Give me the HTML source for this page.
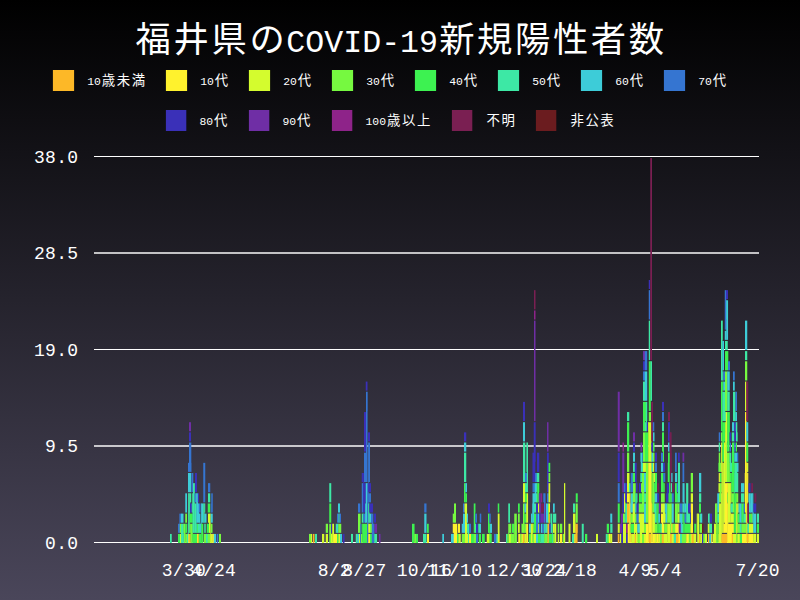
<!DOCTYPE html>
<html lang="ja"><head><meta charset="utf-8"><title>福井県のCOVID-19新規陽性者数</title>
<style>
html,body{margin:0;padding:0;background:#000;}
body{width:800px;height:600px;overflow:hidden;font-family:"Liberation Mono","Liberation Sans",sans-serif;}
#chart{position:relative;width:800px;height:600px;background:linear-gradient(to bottom,#000000 0%,#4a465a 100%);overflow:hidden;}
#chart svg{position:absolute;left:0;top:0;display:block;}
#chart ul,#chart ol{list-style:none;margin:0;padding:0;}
.tx{position:absolute;margin:0;padding:0;font-weight:normal;white-space:nowrap;overflow:hidden;color:transparent;font-family:"Liberation Mono","Liberation Sans",sans-serif;}
#chart svg text{font-family:"Liberation Mono","Noto Sans CJK JP",monospace;fill:#fff;}
#chart svg .ax{font-size:18px;letter-spacing:0.28px;}
#chart svg .tc{font-family:"Liberation Sans","Noto Sans CJK JP",sans-serif;font-size:35.3px;letter-spacing:2.64px;}
#chart svg .tl{font-size:31.6px;}
#chart svg .ld{font-size:11.4px;}
#chart svg .lc{font-family:"Liberation Sans","Noto Sans CJK JP",sans-serif;font-size:13.4px;letter-spacing:1.6px;}
</style></head><body>
<div id="chart">
<svg width="800" height="600" viewBox="0 0 800 600" aria-hidden="true">
<rect x="94.0" y="156.00" width="665.0" height="1" fill="#fff"/>
<rect x="94.0" y="252.00" width="665.0" height="2" fill="#fff" fill-opacity="0.73"/>
<rect x="94.0" y="349.00" width="665.0" height="1" fill="#fff"/>
<rect x="94.0" y="445.00" width="665.0" height="2" fill="#fff" fill-opacity="0.73"/>
<rect x="94.0" y="542.00" width="665.0" height="1" fill="#fff"/>
<g class="bars" shape-rendering="auto"><rect x="170.00" y="533.94" width="1.75" height="9.06" fill="#3de8a5"/><rect x="178.00" y="523.78" width="1.80" height="9.06" fill="#3575d1"/><rect x="179.50" y="513.63" width="0.55" height="19.22" fill="#3575d1"/><rect x="178.00" y="533.94" width="2.30" height="9.06" fill="#3df251"/><rect x="179.75" y="513.63" width="1.55" height="9.06" fill="#3575d1"/><rect x="179.75" y="523.78" width="1.55" height="9.06" fill="#76f940"/><rect x="180.00" y="533.94" width="1.30" height="9.06" fill="#d4fc2e"/><rect x="181.00" y="523.78" width="2.80" height="19.22" fill="#3de8a5"/><rect x="181.00" y="513.63" width="2.50" height="9.06" fill="#3dccd8"/><rect x="183.50" y="533.94" width="0.80" height="9.06" fill="#3de8a5"/><rect x="183.50" y="523.78" width="0.80" height="9.06" fill="#76f940"/><rect x="184.00" y="523.78" width="1.55" height="19.22" fill="#76f940"/><rect x="185.25" y="493.31" width="1.75" height="19.22" fill="#3dccd8"/><rect x="185.25" y="523.78" width="1.75" height="9.06" fill="#3df251"/><rect x="185.25" y="513.63" width="1.75" height="9.06" fill="#76f940"/><rect x="185.25" y="533.94" width="2.05" height="9.06" fill="#76f940"/><rect x="187.00" y="533.94" width="1.05" height="9.06" fill="#3de8a5"/><rect x="187.75" y="523.78" width="0.55" height="19.22" fill="#3de8a5"/><rect x="188.00" y="493.31" width="0.55" height="49.69" fill="#3de8a5"/><rect x="188.00" y="462.84" width="1.30" height="9.06" fill="#3575d1"/><rect x="188.25" y="493.31" width="1.55" height="39.53" fill="#3de8a5"/><rect x="188.25" y="533.94" width="1.55" height="9.06" fill="#fff22d"/><rect x="189.50" y="493.31" width="0.80" height="19.22" fill="#3de8a5"/><rect x="189.50" y="533.94" width="1.30" height="9.06" fill="#fdb827"/><rect x="189.50" y="523.78" width="1.30" height="9.06" fill="#76f940"/><rect x="189.00" y="422.21" width="2.00" height="9.06" fill="#6f2ea5"/><rect x="189.00" y="442.52" width="2.30" height="29.37" fill="#3575d1"/><rect x="189.00" y="432.36" width="2.00" height="9.06" fill="#3a30b8"/><rect x="188.00" y="472.99" width="3.25" height="19.22" fill="#3dccd8"/><rect x="190.00" y="493.31" width="1.25" height="9.06" fill="#3de8a5"/><rect x="191.00" y="462.84" width="0.25" height="9.06" fill="#3575d1"/><rect x="190.00" y="503.47" width="2.05" height="9.06" fill="#3a30b8"/><rect x="191.75" y="503.47" width="0.80" height="9.06" fill="#3de8a5"/><rect x="189.50" y="513.63" width="3.30" height="9.06" fill="#3df251"/><rect x="190.50" y="523.78" width="2.30" height="19.22" fill="#76f940"/><rect x="192.25" y="493.31" width="0.55" height="19.22" fill="#3de8a5"/><rect x="191.50" y="472.99" width="1.80" height="19.22" fill="#3575d1"/><rect x="192.50" y="493.31" width="0.80" height="39.53" fill="#3de8a5"/><rect x="193.00" y="483.15" width="1.80" height="49.69" fill="#3de8a5"/><rect x="194.50" y="483.15" width="0.25" height="9.06" fill="#3de8a5"/><rect x="194.50" y="493.31" width="1.55" height="9.06" fill="#3575d1"/><rect x="194.50" y="503.47" width="2.05" height="29.37" fill="#3de8a5"/><rect x="195.75" y="493.31" width="0.80" height="9.06" fill="#3dccd8"/><rect x="192.50" y="533.94" width="4.80" height="9.06" fill="#3df251"/><rect x="195.00" y="472.99" width="2.00" height="19.22" fill="#3a30b8"/><rect x="196.25" y="523.78" width="1.05" height="9.06" fill="#3de8a5"/><rect x="196.25" y="493.31" width="1.80" height="29.37" fill="#3dccd8"/><rect x="197.00" y="523.78" width="1.05" height="9.06" fill="#3df251"/><rect x="197.00" y="533.94" width="1.05" height="9.06" fill="#fff22d"/><rect x="197.75" y="533.94" width="1.30" height="9.06" fill="#fdb827"/><rect x="197.75" y="503.47" width="1.30" height="19.22" fill="#3dccd8"/><rect x="197.75" y="493.31" width="1.25" height="9.06" fill="#3a30b8"/><rect x="197.75" y="523.78" width="2.30" height="9.06" fill="#3de8a5"/><rect x="198.75" y="513.63" width="1.30" height="9.06" fill="#3dccd8"/><rect x="199.75" y="513.63" width="0.55" height="19.22" fill="#3dccd8"/><rect x="198.75" y="503.47" width="1.75" height="9.06" fill="#3575d1"/><rect x="200.00" y="523.78" width="1.30" height="9.06" fill="#3dccd8"/><rect x="198.75" y="533.94" width="2.80" height="9.06" fill="#3df251"/><rect x="201.00" y="503.47" width="0.55" height="29.37" fill="#3dccd8"/><rect x="201.25" y="523.78" width="2.00" height="19.22" fill="#3df251"/><rect x="201.25" y="503.47" width="2.30" height="19.22" fill="#3dccd8"/><rect x="203.25" y="503.47" width="1.30" height="19.22" fill="#3de8a5"/><rect x="203.25" y="462.84" width="2.00" height="39.53" fill="#3575d1"/><rect x="204.25" y="503.47" width="1.00" height="9.06" fill="#3de8a5"/><rect x="204.25" y="523.78" width="1.50" height="9.06" fill="#3de8a5"/><rect x="203.75" y="533.94" width="2.55" height="9.06" fill="#76f940"/><rect x="204.25" y="513.63" width="2.25" height="9.06" fill="#3dccd8"/><rect x="206.00" y="533.94" width="2.05" height="9.06" fill="#3de8a5"/><rect x="206.75" y="523.78" width="2.55" height="9.06" fill="#3df251"/><rect x="208.00" y="513.63" width="1.30" height="9.06" fill="#d4fc2e"/><rect x="207.75" y="533.94" width="2.55" height="9.06" fill="#76f940"/><rect x="209.00" y="513.63" width="1.30" height="19.22" fill="#d4fc2e"/><rect x="207.75" y="503.47" width="2.50" height="9.06" fill="#3df251"/><rect x="208.00" y="493.31" width="2.25" height="9.06" fill="#3de8a5"/><rect x="208.00" y="483.15" width="2.25" height="9.06" fill="#3575d1"/><rect x="210.00" y="513.63" width="0.55" height="29.37" fill="#d4fc2e"/><rect x="210.75" y="503.47" width="0.80" height="9.06" fill="#3575d1"/><rect x="210.25" y="533.94" width="2.55" height="9.06" fill="#d4fc2e"/><rect x="210.75" y="523.78" width="1.75" height="9.06" fill="#76f940"/><rect x="210.75" y="513.63" width="2.00" height="9.06" fill="#3dccd8"/><rect x="211.25" y="493.31" width="1.50" height="19.22" fill="#3575d1"/><rect x="212.50" y="533.94" width="1.55" height="9.06" fill="#fff22d"/><rect x="213.75" y="533.94" width="2.25" height="9.06" fill="#3dccd8"/><rect x="216.75" y="533.94" width="1.50" height="9.06" fill="#3575d1"/><rect x="219.00" y="533.94" width="2.00" height="9.06" fill="#76f940"/><rect x="309.00" y="533.94" width="2.30" height="9.06" fill="#76f940"/><rect x="311.00" y="533.94" width="1.00" height="9.06" fill="#d4fc2e"/><rect x="312.75" y="533.94" width="1.75" height="9.06" fill="#fdb827"/><rect x="315.00" y="533.94" width="2.00" height="9.06" fill="#3de8a5"/><rect x="322.00" y="533.94" width="2.25" height="9.06" fill="#d4fc2e"/><rect x="325.75" y="533.94" width="2.25" height="9.06" fill="#d4fc2e"/><rect x="325.75" y="523.78" width="2.25" height="9.06" fill="#76f940"/><rect x="329.25" y="523.78" width="2.05" height="19.22" fill="#76f940"/><rect x="329.25" y="503.47" width="2.00" height="19.22" fill="#3df251"/><rect x="329.25" y="483.15" width="2.00" height="19.22" fill="#3de8a5"/><rect x="331.00" y="523.78" width="1.00" height="9.06" fill="#3a30b8"/><rect x="331.00" y="533.94" width="1.55" height="9.06" fill="#d4fc2e"/><rect x="332.25" y="523.78" width="1.80" height="19.22" fill="#d4fc2e"/><rect x="333.75" y="523.78" width="0.25" height="9.06" fill="#d4fc2e"/><rect x="333.75" y="533.94" width="3.55" height="9.06" fill="#fff22d"/><rect x="335.75" y="523.78" width="1.55" height="9.06" fill="#3de8a5"/><rect x="337.00" y="523.78" width="1.55" height="9.06" fill="#3dccd8"/><rect x="337.00" y="533.94" width="1.80" height="9.06" fill="#3df251"/><rect x="337.00" y="513.63" width="1.80" height="9.06" fill="#3575d1"/><rect x="338.50" y="513.63" width="1.30" height="9.06" fill="#3de8a5"/><rect x="338.00" y="503.47" width="2.00" height="9.06" fill="#3dccd8"/><rect x="338.50" y="533.94" width="1.80" height="9.06" fill="#d4fc2e"/><rect x="339.50" y="513.63" width="1.50" height="9.06" fill="#3575d1"/><rect x="338.25" y="523.78" width="3.00" height="9.06" fill="#76f940"/><rect x="340.00" y="533.94" width="2.00" height="9.06" fill="#3dccd8"/><rect x="342.75" y="533.94" width="1.75" height="9.06" fill="#3a30b8"/><rect x="351.00" y="533.94" width="2.00" height="9.06" fill="#3de8a5"/><rect x="355.75" y="533.94" width="2.05" height="9.06" fill="#3de8a5"/><rect x="357.50" y="533.94" width="1.80" height="9.06" fill="#3dccd8"/><rect x="359.00" y="533.94" width="1.30" height="9.06" fill="#d4fc2e"/><rect x="358.00" y="503.47" width="2.25" height="9.06" fill="#3575d1"/><rect x="358.00" y="513.63" width="2.55" height="19.22" fill="#76f940"/><rect x="360.00" y="533.94" width="0.55" height="9.06" fill="#3575d1"/><rect x="360.25" y="523.78" width="1.05" height="19.22" fill="#3575d1"/><rect x="361.00" y="523.78" width="0.25" height="9.06" fill="#3575d1"/><rect x="361.00" y="533.94" width="1.55" height="9.06" fill="#76f940"/><rect x="361.75" y="523.78" width="0.80" height="9.06" fill="#3df251"/><rect x="361.75" y="472.99" width="1.80" height="9.06" fill="#3a30b8"/><rect x="361.75" y="483.15" width="1.80" height="29.37" fill="#3575d1"/><rect x="361.75" y="513.63" width="1.80" height="9.06" fill="#3de8a5"/><rect x="363.25" y="472.99" width="1.05" height="39.53" fill="#3a30b8"/><rect x="363.25" y="513.63" width="2.05" height="9.06" fill="#3575d1"/><rect x="364.00" y="483.15" width="1.55" height="29.37" fill="#3a30b8"/><rect x="365.00" y="513.63" width="0.55" height="9.06" fill="#3dccd8"/><rect x="365.25" y="503.47" width="0.80" height="19.22" fill="#3dccd8"/><rect x="365.25" y="483.15" width="0.80" height="19.22" fill="#3a30b8"/><rect x="364.00" y="412.05" width="2.30" height="39.53" fill="#3a30b8"/><rect x="364.00" y="452.68" width="2.30" height="29.37" fill="#3575d1"/><rect x="362.25" y="523.78" width="5.05" height="19.22" fill="#3df251"/><rect x="365.75" y="483.15" width="1.55" height="39.53" fill="#3dccd8"/><rect x="366.00" y="391.73" width="1.55" height="90.32" fill="#3575d1"/><rect x="367.00" y="483.15" width="0.55" height="19.22" fill="#3dccd8"/><rect x="367.00" y="503.47" width="0.55" height="39.53" fill="#3575d1"/><rect x="365.75" y="381.57" width="1.75" height="9.06" fill="#3a30b8"/><rect x="367.25" y="391.73" width="0.25" height="19.22" fill="#3575d1"/><rect x="367.25" y="483.15" width="1.05" height="59.85" fill="#3575d1"/><rect x="368.00" y="442.52" width="0.55" height="100.48" fill="#3575d1"/><rect x="368.25" y="503.47" width="1.30" height="19.22" fill="#3de8a5"/><rect x="369.25" y="513.63" width="0.80" height="9.06" fill="#3de8a5"/><rect x="368.00" y="432.36" width="2.00" height="9.06" fill="#3a30b8"/><rect x="368.25" y="523.78" width="2.05" height="9.06" fill="#d4fc2e"/><rect x="368.25" y="442.52" width="1.75" height="39.53" fill="#3575d1"/><rect x="368.25" y="533.94" width="2.05" height="9.06" fill="#fff22d"/><rect x="368.25" y="493.31" width="2.75" height="9.06" fill="#3575d1"/><rect x="368.25" y="483.15" width="2.75" height="9.06" fill="#3a30b8"/><rect x="369.75" y="513.63" width="1.55" height="9.06" fill="#3dccd8"/><rect x="370.00" y="533.94" width="2.05" height="9.06" fill="#3df251"/><rect x="370.00" y="523.78" width="2.05" height="9.06" fill="#76f940"/><rect x="371.00" y="513.63" width="1.05" height="9.06" fill="#3575d1"/><rect x="369.25" y="503.47" width="3.75" height="9.06" fill="#3a30b8"/><rect x="371.75" y="513.63" width="1.55" height="29.37" fill="#3575d1"/><rect x="373.00" y="523.78" width="1.55" height="19.22" fill="#3575d1"/><rect x="374.00" y="513.63" width="2.00" height="9.06" fill="#3a30b8"/><rect x="374.25" y="533.94" width="2.75" height="9.06" fill="#3de8a5"/><rect x="374.50" y="523.78" width="2.50" height="9.06" fill="#6f2ea5"/><rect x="379.00" y="533.94" width="1.50" height="9.06" fill="#6f2ea5"/><rect x="412.00" y="523.78" width="2.55" height="19.22" fill="#3df251"/><rect x="414.25" y="533.94" width="2.05" height="9.06" fill="#76f940"/><rect x="416.00" y="533.94" width="2.00" height="9.06" fill="#3df251"/><rect x="423.00" y="533.94" width="3.50" height="9.06" fill="#3de8a5"/><rect x="424.25" y="513.63" width="2.25" height="19.22" fill="#3dccd8"/><rect x="424.25" y="503.47" width="2.25" height="9.06" fill="#3575d1"/><rect x="427.00" y="523.78" width="1.75" height="9.06" fill="#3df251"/><rect x="427.00" y="533.94" width="2.00" height="9.06" fill="#fff22d"/><rect x="442.25" y="533.94" width="1.75" height="9.06" fill="#3dccd8"/><rect x="451.00" y="533.94" width="3.05" height="9.06" fill="#3dccd8"/><rect x="452.75" y="523.78" width="1.30" height="9.06" fill="#fff22d"/><rect x="452.75" y="513.63" width="1.55" height="9.06" fill="#76f940"/><rect x="454.00" y="503.47" width="2.00" height="19.22" fill="#76f940"/><rect x="453.75" y="523.78" width="3.55" height="19.22" fill="#fff22d"/><rect x="457.00" y="533.94" width="1.80" height="9.06" fill="#3df251"/><rect x="458.00" y="523.78" width="2.00" height="9.06" fill="#fff22d"/><rect x="458.50" y="533.94" width="2.25" height="9.06" fill="#d4fc2e"/><rect x="461.75" y="523.78" width="1.55" height="9.06" fill="#3dccd8"/><rect x="463.00" y="503.47" width="1.80" height="9.06" fill="#3575d1"/><rect x="461.75" y="533.94" width="3.55" height="9.06" fill="#76f940"/><rect x="463.00" y="513.63" width="2.30" height="19.22" fill="#3dccd8"/><rect x="464.50" y="503.47" width="0.80" height="9.06" fill="#d4fc2e"/><rect x="464.00" y="483.15" width="1.55" height="19.22" fill="#3df251"/><rect x="464.00" y="442.52" width="2.25" height="9.06" fill="#3dccd8"/><rect x="464.00" y="432.36" width="2.25" height="9.06" fill="#3a30b8"/><rect x="464.00" y="452.68" width="2.25" height="29.37" fill="#3de8a5"/><rect x="465.00" y="503.47" width="2.05" height="39.53" fill="#d4fc2e"/><rect x="465.25" y="483.15" width="1.75" height="9.06" fill="#3dccd8"/><rect x="465.25" y="493.31" width="1.75" height="9.06" fill="#3df251"/><rect x="466.75" y="523.78" width="0.55" height="19.22" fill="#d4fc2e"/><rect x="466.75" y="503.47" width="0.25" height="9.06" fill="#d4fc2e"/><rect x="466.75" y="513.63" width="1.25" height="9.06" fill="#3dccd8"/><rect x="467.00" y="523.78" width="1.30" height="9.06" fill="#3de8a5"/><rect x="467.00" y="533.94" width="1.30" height="9.06" fill="#d4fc2e"/><rect x="468.00" y="523.78" width="1.30" height="19.22" fill="#3de8a5"/><rect x="469.00" y="523.78" width="2.00" height="9.06" fill="#3575d1"/><rect x="469.00" y="533.94" width="2.30" height="9.06" fill="#fff22d"/><rect x="471.00" y="533.94" width="3.05" height="9.06" fill="#3df251"/><rect x="473.75" y="503.47" width="1.55" height="29.37" fill="#3df251"/><rect x="475.00" y="503.47" width="0.25" height="9.06" fill="#3df251"/><rect x="473.75" y="533.94" width="2.55" height="9.06" fill="#76f940"/><rect x="475.00" y="523.78" width="1.30" height="9.06" fill="#3de8a5"/><rect x="475.25" y="513.63" width="1.75" height="9.06" fill="#3575d1"/><rect x="476.00" y="533.94" width="2.00" height="9.06" fill="#3575d1"/><rect x="476.00" y="523.78" width="2.00" height="9.06" fill="#3a30b8"/><rect x="478.25" y="523.78" width="1.80" height="9.06" fill="#3de8a5"/><rect x="478.75" y="533.94" width="2.25" height="9.06" fill="#3df251"/><rect x="479.75" y="523.78" width="1.25" height="9.06" fill="#3dccd8"/><rect x="479.75" y="513.63" width="1.50" height="9.06" fill="#3575d1"/><rect x="482.00" y="533.94" width="2.75" height="9.06" fill="#3df251"/><rect x="488.00" y="513.63" width="1.55" height="19.22" fill="#3df251"/><rect x="486.75" y="533.94" width="3.05" height="9.06" fill="#d4fc2e"/><rect x="489.25" y="523.78" width="0.55" height="9.06" fill="#3df251"/><rect x="488.00" y="503.47" width="2.00" height="9.06" fill="#3a30b8"/><rect x="489.50" y="523.78" width="0.80" height="19.22" fill="#3df251"/><rect x="489.25" y="513.63" width="1.50" height="9.06" fill="#3575d1"/><rect x="490.00" y="533.94" width="1.75" height="9.06" fill="#3df251"/><rect x="490.00" y="523.78" width="2.00" height="9.06" fill="#3dccd8"/><rect x="494.00" y="533.94" width="2.55" height="9.06" fill="#3575d1"/><rect x="496.25" y="533.94" width="1.80" height="9.06" fill="#3de8a5"/><rect x="497.75" y="513.63" width="0.55" height="19.22" fill="#d4fc2e"/><rect x="497.75" y="533.94" width="0.55" height="9.06" fill="#fff22d"/><rect x="497.75" y="503.47" width="1.50" height="9.06" fill="#3df251"/><rect x="498.00" y="513.63" width="1.55" height="29.37" fill="#d4fc2e"/><rect x="499.25" y="533.94" width="0.25" height="9.06" fill="#fff22d"/><rect x="506.00" y="533.94" width="1.55" height="9.06" fill="#3de8a5"/><rect x="507.25" y="533.94" width="1.30" height="9.06" fill="#76f940"/><rect x="508.25" y="523.78" width="1.05" height="19.22" fill="#76f940"/><rect x="508.25" y="503.47" width="1.75" height="19.22" fill="#3de8a5"/><rect x="509.00" y="533.94" width="2.05" height="9.06" fill="#d4fc2e"/><rect x="509.00" y="523.78" width="2.05" height="9.06" fill="#76f940"/><rect x="510.75" y="523.78" width="0.55" height="19.22" fill="#76f940"/><rect x="511.00" y="533.94" width="3.05" height="9.06" fill="#76f940"/><rect x="512.00" y="523.78" width="2.05" height="9.06" fill="#3df251"/><rect x="513.75" y="523.78" width="0.80" height="19.22" fill="#76f940"/><rect x="514.25" y="513.63" width="2.55" height="29.37" fill="#76f940"/><rect x="516.50" y="523.78" width="0.50" height="19.22" fill="#76f940"/><rect x="518.00" y="503.47" width="1.75" height="9.06" fill="#3df251"/><rect x="518.00" y="523.78" width="1.75" height="9.06" fill="#d4fc2e"/><rect x="518.00" y="513.63" width="1.75" height="9.06" fill="#76f940"/><rect x="518.25" y="533.94" width="2.30" height="9.06" fill="#fff22d"/><rect x="520.25" y="533.94" width="1.30" height="9.06" fill="#76f940"/><rect x="521.25" y="533.94" width="2.05" height="9.06" fill="#d4fc2e"/><rect x="521.50" y="523.78" width="1.80" height="9.06" fill="#76f940"/><rect x="523.00" y="503.47" width="1.55" height="29.37" fill="#76f940"/><rect x="523.00" y="533.94" width="1.80" height="9.06" fill="#fdb827"/><rect x="524.25" y="503.47" width="0.55" height="9.06" fill="#76f940"/><rect x="523.00" y="422.21" width="2.00" height="19.22" fill="#3dccd8"/><rect x="523.00" y="483.15" width="2.30" height="19.22" fill="#d4fc2e"/><rect x="523.00" y="401.89" width="2.00" height="19.22" fill="#3a30b8"/><rect x="523.00" y="442.52" width="2.30" height="39.53" fill="#3de8a5"/><rect x="524.25" y="523.78" width="2.05" height="9.06" fill="#76f940"/><rect x="524.25" y="513.63" width="2.30" height="9.06" fill="#3df251"/><rect x="524.50" y="533.94" width="2.05" height="9.06" fill="#d4fc2e"/><rect x="524.50" y="503.47" width="2.05" height="9.06" fill="#3dccd8"/><rect x="526.00" y="523.78" width="0.55" height="9.06" fill="#fff22d"/><rect x="525.00" y="472.99" width="2.05" height="9.06" fill="#3575d1"/><rect x="525.00" y="483.15" width="2.05" height="9.06" fill="#3de8a5"/><rect x="525.00" y="493.31" width="2.05" height="9.06" fill="#3df251"/><rect x="526.25" y="503.47" width="0.80" height="19.22" fill="#d4fc2e"/><rect x="526.50" y="442.52" width="0.55" height="29.37" fill="#3de8a5"/><rect x="526.25" y="523.78" width="1.80" height="19.22" fill="#fff22d"/><rect x="526.75" y="493.31" width="1.30" height="29.37" fill="#d4fc2e"/><rect x="526.75" y="442.52" width="1.25" height="49.69" fill="#3de8a5"/><rect x="527.75" y="493.31" width="0.25" height="9.06" fill="#d4fc2e"/><rect x="527.75" y="523.78" width="0.25" height="9.06" fill="#fff22d"/><rect x="528.75" y="533.94" width="2.30" height="9.06" fill="#3df251"/><rect x="529.00" y="523.78" width="2.05" height="9.06" fill="#3dccd8"/><rect x="531.00" y="513.63" width="1.55" height="9.06" fill="#3dccd8"/><rect x="530.75" y="523.78" width="2.05" height="19.22" fill="#d4fc2e"/><rect x="532.25" y="503.47" width="0.55" height="19.22" fill="#3dccd8"/><rect x="532.50" y="523.78" width="1.30" height="9.06" fill="#d4fc2e"/><rect x="532.50" y="452.68" width="1.55" height="29.37" fill="#3a30b8"/><rect x="532.50" y="493.31" width="1.80" height="29.37" fill="#3dccd8"/><rect x="532.50" y="533.94" width="1.80" height="9.06" fill="#76f940"/><rect x="533.50" y="523.78" width="0.80" height="9.06" fill="#3df251"/><rect x="532.50" y="483.15" width="2.55" height="9.06" fill="#3575d1"/><rect x="534.00" y="493.31" width="1.05" height="9.06" fill="#3dccd8"/><rect x="533.75" y="422.21" width="1.55" height="59.85" fill="#3a30b8"/><rect x="534.00" y="290.15" width="1.50" height="19.22" fill="#7a1f52"/><rect x="534.00" y="320.63" width="1.50" height="100.48" fill="#6f2ea5"/><rect x="534.00" y="310.47" width="1.50" height="9.06" fill="#8e2389"/><rect x="535.00" y="422.21" width="0.50" height="39.53" fill="#3a30b8"/><rect x="534.00" y="513.63" width="2.30" height="19.22" fill="#3df251"/><rect x="534.00" y="503.47" width="2.30" height="9.06" fill="#3de8a5"/><rect x="534.00" y="533.94" width="2.30" height="9.06" fill="#d4fc2e"/><rect x="534.75" y="483.15" width="1.55" height="19.22" fill="#3dccd8"/><rect x="535.00" y="472.99" width="2.05" height="9.06" fill="#3575d1"/><rect x="536.00" y="483.15" width="1.05" height="9.06" fill="#3dccd8"/><rect x="536.00" y="493.31" width="1.55" height="9.06" fill="#3de8a5"/><rect x="536.75" y="483.15" width="0.80" height="9.06" fill="#3df251"/><rect x="536.00" y="533.94" width="2.30" height="9.06" fill="#3dccd8"/><rect x="536.00" y="513.63" width="2.30" height="19.22" fill="#3575d1"/><rect x="536.00" y="503.47" width="2.30" height="9.06" fill="#3a30b8"/><rect x="537.25" y="483.15" width="1.80" height="19.22" fill="#3df251"/><rect x="538.00" y="523.78" width="1.05" height="9.06" fill="#d4fc2e"/><rect x="536.75" y="472.99" width="2.50" height="9.06" fill="#3de8a5"/><rect x="537.00" y="452.68" width="2.25" height="19.22" fill="#3a30b8"/><rect x="538.00" y="513.63" width="1.55" height="9.06" fill="#3dccd8"/><rect x="538.00" y="503.47" width="1.55" height="9.06" fill="#d4fc2e"/><rect x="538.75" y="483.15" width="0.50" height="9.06" fill="#3df251"/><rect x="538.75" y="493.31" width="0.80" height="9.06" fill="#6f2ea5"/><rect x="538.75" y="523.78" width="1.50" height="9.06" fill="#3575d1"/><rect x="539.25" y="493.31" width="1.30" height="19.22" fill="#6f2ea5"/><rect x="538.00" y="533.94" width="2.80" height="9.06" fill="#3df251"/><rect x="539.25" y="513.63" width="1.55" height="9.06" fill="#3a30b8"/><rect x="540.25" y="503.47" width="0.55" height="9.06" fill="#6f2ea5"/><rect x="540.50" y="503.47" width="0.80" height="19.22" fill="#6f2ea5"/><rect x="540.75" y="493.31" width="1.50" height="9.06" fill="#8e2389"/><rect x="541.00" y="523.78" width="1.55" height="9.06" fill="#3dccd8"/><rect x="540.50" y="533.94" width="3.80" height="9.06" fill="#3de8a5"/><rect x="541.00" y="513.63" width="3.30" height="9.06" fill="#6f2ea5"/><rect x="541.00" y="503.47" width="3.30" height="9.06" fill="#7a1f52"/><rect x="542.25" y="523.78" width="2.05" height="9.06" fill="#3575d1"/><rect x="543.25" y="493.31" width="1.05" height="9.06" fill="#3575d1"/><rect x="544.00" y="523.78" width="0.55" height="19.22" fill="#3de8a5"/><rect x="544.00" y="493.31" width="1.55" height="29.37" fill="#3575d1"/><rect x="544.25" y="523.78" width="1.30" height="9.06" fill="#3de8a5"/><rect x="545.25" y="523.78" width="1.05" height="9.06" fill="#3dccd8"/><rect x="545.25" y="503.47" width="1.05" height="19.22" fill="#6f2ea5"/><rect x="544.25" y="533.94" width="3.55" height="9.06" fill="#76f940"/><rect x="546.00" y="523.78" width="1.80" height="9.06" fill="#3de8a5"/><rect x="546.00" y="503.47" width="2.30" height="19.22" fill="#3dccd8"/><rect x="547.00" y="493.31" width="1.80" height="9.06" fill="#3575d1"/><rect x="547.00" y="422.21" width="1.50" height="29.37" fill="#6f2ea5"/><rect x="547.00" y="452.68" width="1.80" height="39.53" fill="#3a30b8"/><rect x="547.50" y="523.78" width="1.55" height="19.22" fill="#fdb827"/><rect x="548.00" y="503.47" width="1.05" height="19.22" fill="#76f940"/><rect x="548.75" y="513.63" width="0.80" height="19.22" fill="#fdb827"/><rect x="548.75" y="503.47" width="1.25" height="9.06" fill="#fff22d"/><rect x="549.25" y="513.63" width="0.75" height="9.06" fill="#fdb827"/><rect x="548.50" y="472.99" width="1.75" height="9.06" fill="#76f940"/><rect x="548.50" y="462.84" width="1.75" height="9.06" fill="#3df251"/><rect x="548.50" y="483.15" width="1.75" height="19.22" fill="#d4fc2e"/><rect x="549.25" y="523.78" width="1.80" height="9.06" fill="#3a30b8"/><rect x="550.50" y="513.63" width="0.55" height="9.06" fill="#3de8a5"/><rect x="548.75" y="533.94" width="3.55" height="9.06" fill="#3df251"/><rect x="550.75" y="513.63" width="1.55" height="19.22" fill="#3de8a5"/><rect x="552.00" y="523.78" width="0.55" height="19.22" fill="#3de8a5"/><rect x="552.25" y="533.94" width="1.05" height="9.06" fill="#3de8a5"/><rect x="553.00" y="523.78" width="1.80" height="9.06" fill="#d4fc2e"/><rect x="553.00" y="533.94" width="1.80" height="9.06" fill="#76f940"/><rect x="553.00" y="503.47" width="1.75" height="9.06" fill="#3dccd8"/><rect x="553.00" y="513.63" width="3.25" height="9.06" fill="#3de8a5"/><rect x="554.50" y="523.78" width="1.75" height="19.22" fill="#d4fc2e"/><rect x="557.75" y="533.94" width="1.50" height="9.06" fill="#d4fc2e"/><rect x="557.75" y="523.78" width="1.50" height="9.06" fill="#76f940"/><rect x="560.00" y="523.78" width="2.25" height="9.06" fill="#76f940"/><rect x="560.00" y="533.94" width="2.25" height="9.06" fill="#fff22d"/><rect x="562.75" y="533.94" width="1.55" height="9.06" fill="#76f940"/><rect x="564.00" y="483.15" width="1.25" height="59.85" fill="#d4fc2e"/><rect x="568.50" y="523.78" width="2.00" height="19.22" fill="#d4fc2e"/><rect x="572.00" y="533.94" width="2.55" height="9.06" fill="#3de8a5"/><rect x="573.00" y="513.63" width="2.55" height="19.22" fill="#d4fc2e"/><rect x="573.00" y="503.47" width="2.25" height="9.06" fill="#3de8a5"/><rect x="574.25" y="533.94" width="1.55" height="9.06" fill="#fff22d"/><rect x="575.25" y="523.78" width="0.55" height="9.06" fill="#d4fc2e"/><rect x="575.50" y="523.78" width="2.05" height="19.22" fill="#fdb827"/><rect x="575.75" y="493.31" width="2.00" height="9.06" fill="#3df251"/><rect x="575.75" y="503.47" width="2.00" height="19.22" fill="#76f940"/><rect x="577.25" y="523.78" width="0.50" height="9.06" fill="#fdb827"/><rect x="581.75" y="523.78" width="2.00" height="19.22" fill="#3de8a5"/><rect x="585.00" y="533.94" width="2.25" height="9.06" fill="#3df251"/><rect x="596.00" y="533.94" width="2.00" height="9.06" fill="#d4fc2e"/><rect x="605.75" y="533.94" width="2.05" height="9.06" fill="#3de8a5"/><rect x="606.75" y="523.78" width="2.25" height="9.06" fill="#3df251"/><rect x="607.50" y="533.94" width="1.80" height="9.06" fill="#76f940"/><rect x="609.00" y="533.94" width="1.55" height="9.06" fill="#fff22d"/><rect x="610.25" y="533.94" width="2.00" height="9.06" fill="#d4fc2e"/><rect x="610.25" y="513.63" width="2.00" height="9.06" fill="#3dccd8"/><rect x="610.25" y="523.78" width="2.25" height="9.06" fill="#3de8a5"/><rect x="617.75" y="533.94" width="1.75" height="9.06" fill="#fdb827"/><rect x="617.75" y="523.78" width="2.00" height="9.06" fill="#d4fc2e"/><rect x="617.75" y="391.73" width="2.00" height="59.85" fill="#6f2ea5"/><rect x="617.75" y="503.47" width="2.00" height="19.22" fill="#3df251"/><rect x="617.75" y="483.15" width="2.00" height="19.22" fill="#3575d1"/><rect x="617.75" y="452.68" width="2.00" height="29.37" fill="#3a30b8"/><rect x="620.00" y="523.78" width="1.30" height="9.06" fill="#6f2ea5"/><rect x="620.00" y="533.94" width="1.55" height="9.06" fill="#d4fc2e"/><rect x="621.00" y="513.63" width="1.30" height="19.22" fill="#6f2ea5"/><rect x="621.25" y="533.94" width="1.05" height="9.06" fill="#3a30b8"/><rect x="622.00" y="513.63" width="1.30" height="9.06" fill="#6f2ea5"/><rect x="622.00" y="523.78" width="1.30" height="19.22" fill="#3a30b8"/><rect x="622.25" y="452.68" width="2.05" height="39.53" fill="#6f2ea5"/><rect x="622.25" y="493.31" width="2.05" height="19.22" fill="#3a30b8"/><rect x="622.50" y="442.52" width="1.50" height="9.06" fill="#8e2389"/><rect x="623.00" y="513.63" width="2.05" height="9.06" fill="#76f940"/><rect x="624.00" y="493.31" width="1.55" height="19.22" fill="#d4fc2e"/><rect x="624.75" y="513.63" width="0.80" height="9.06" fill="#3de8a5"/><rect x="624.00" y="483.15" width="1.80" height="9.06" fill="#3575d1"/><rect x="625.25" y="493.31" width="0.55" height="9.06" fill="#3a30b8"/><rect x="623.00" y="523.78" width="3.05" height="19.22" fill="#d4fc2e"/><rect x="625.75" y="533.94" width="0.55" height="9.06" fill="#d4fc2e"/><rect x="625.25" y="503.47" width="2.05" height="19.22" fill="#3de8a5"/><rect x="625.50" y="483.15" width="1.80" height="19.22" fill="#3a30b8"/><rect x="626.00" y="533.94" width="2.05" height="9.06" fill="#3a30b8"/><rect x="626.00" y="523.78" width="2.05" height="9.06" fill="#8e2389"/><rect x="627.00" y="472.99" width="2.30" height="19.22" fill="#d4fc2e"/><rect x="627.00" y="503.47" width="2.55" height="19.22" fill="#fdb827"/><rect x="627.00" y="452.68" width="2.25" height="19.22" fill="#76f940"/><rect x="627.00" y="493.31" width="2.55" height="9.06" fill="#fff22d"/><rect x="627.00" y="422.21" width="2.25" height="29.37" fill="#3df251"/><rect x="627.00" y="412.05" width="2.25" height="9.06" fill="#3de8a5"/><rect x="627.75" y="523.78" width="1.80" height="19.22" fill="#fff22d"/><rect x="629.00" y="472.99" width="0.25" height="9.06" fill="#d4fc2e"/><rect x="629.25" y="493.31" width="1.30" height="49.69" fill="#fff22d"/><rect x="629.00" y="483.15" width="1.50" height="9.06" fill="#3de8a5"/><rect x="630.25" y="503.47" width="0.55" height="39.53" fill="#fff22d"/><rect x="630.50" y="503.47" width="0.55" height="9.06" fill="#3dccd8"/><rect x="630.50" y="533.94" width="1.30" height="9.06" fill="#fff22d"/><rect x="630.50" y="513.63" width="2.55" height="9.06" fill="#76f940"/><rect x="630.75" y="472.99" width="2.30" height="19.22" fill="#3575d1"/><rect x="630.75" y="493.31" width="2.30" height="19.22" fill="#3dccd8"/><rect x="632.75" y="493.31" width="0.55" height="9.06" fill="#76f940"/><rect x="630.50" y="523.78" width="3.80" height="9.06" fill="#3df251"/><rect x="631.50" y="533.94" width="2.80" height="9.06" fill="#d4fc2e"/><rect x="632.75" y="503.47" width="1.55" height="19.22" fill="#d4fc2e"/><rect x="633.00" y="462.84" width="2.05" height="9.06" fill="#3de8a5"/><rect x="634.00" y="503.47" width="1.05" height="39.53" fill="#d4fc2e"/><rect x="632.75" y="472.99" width="2.55" height="9.06" fill="#3df251"/><rect x="633.00" y="442.52" width="2.00" height="9.06" fill="#3a30b8"/><rect x="633.00" y="452.68" width="2.00" height="9.06" fill="#3dccd8"/><rect x="633.00" y="432.36" width="2.00" height="9.06" fill="#6f2ea5"/><rect x="634.75" y="462.84" width="0.55" height="9.06" fill="#3a30b8"/><rect x="633.00" y="483.15" width="2.55" height="19.22" fill="#76f940"/><rect x="634.75" y="503.47" width="0.80" height="9.06" fill="#3de8a5"/><rect x="635.25" y="483.15" width="0.25" height="9.06" fill="#76f940"/><rect x="634.75" y="523.78" width="1.55" height="9.06" fill="#d4fc2e"/><rect x="634.75" y="533.94" width="1.55" height="9.06" fill="#fdb827"/><rect x="635.00" y="462.84" width="1.30" height="19.22" fill="#3a30b8"/><rect x="636.00" y="462.84" width="0.55" height="29.37" fill="#3a30b8"/><rect x="634.75" y="513.63" width="2.05" height="9.06" fill="#76f940"/><rect x="635.25" y="493.31" width="1.55" height="19.22" fill="#3de8a5"/><rect x="636.00" y="523.78" width="1.55" height="19.22" fill="#d4fc2e"/><rect x="636.25" y="483.15" width="1.25" height="9.06" fill="#3a30b8"/><rect x="636.50" y="493.31" width="1.00" height="9.06" fill="#3de8a5"/><rect x="637.25" y="533.94" width="0.80" height="9.06" fill="#d4fc2e"/><rect x="636.50" y="503.47" width="2.55" height="9.06" fill="#3a30b8"/><rect x="636.50" y="513.63" width="2.55" height="9.06" fill="#3575d1"/><rect x="637.25" y="523.78" width="2.80" height="9.06" fill="#3dccd8"/><rect x="637.75" y="533.94" width="2.30" height="9.06" fill="#76f940"/><rect x="638.75" y="513.63" width="1.30" height="9.06" fill="#d4fc2e"/><rect x="640.50" y="452.68" width="0.55" height="9.06" fill="#3dccd8"/><rect x="639.00" y="483.15" width="2.30" height="9.06" fill="#3a30b8"/><rect x="639.75" y="513.63" width="2.30" height="29.37" fill="#d4fc2e"/><rect x="638.75" y="503.47" width="3.55" height="9.06" fill="#76f940"/><rect x="639.00" y="493.31" width="3.30" height="9.06" fill="#3df251"/><rect x="640.25" y="472.99" width="2.05" height="9.06" fill="#3de8a5"/><rect x="640.75" y="452.68" width="1.55" height="19.22" fill="#3dccd8"/><rect x="641.00" y="483.15" width="1.30" height="9.06" fill="#76f940"/><rect x="641.75" y="533.94" width="0.55" height="9.06" fill="#fff22d"/><rect x="640.50" y="442.52" width="1.75" height="9.06" fill="#6f2ea5"/><rect x="642.00" y="452.68" width="0.55" height="9.06" fill="#3dccd8"/><rect x="642.00" y="462.84" width="1.30" height="9.06" fill="#3de8a5"/><rect x="642.25" y="452.68" width="1.05" height="9.06" fill="#3575d1"/><rect x="641.75" y="513.63" width="2.55" height="19.22" fill="#d4fc2e"/><rect x="642.00" y="472.99" width="2.30" height="39.53" fill="#76f940"/><rect x="642.00" y="533.94" width="2.30" height="9.06" fill="#76f940"/><rect x="643.00" y="351.10" width="2.05" height="9.06" fill="#6f2ea5"/><rect x="643.00" y="371.42" width="2.05" height="9.06" fill="#3575d1"/><rect x="643.00" y="401.89" width="2.05" height="29.37" fill="#3df251"/><rect x="643.00" y="381.57" width="2.05" height="19.22" fill="#3de8a5"/><rect x="643.00" y="361.26" width="2.05" height="9.06" fill="#3a30b8"/><rect x="643.00" y="432.36" width="2.30" height="29.37" fill="#76f940"/><rect x="643.00" y="462.84" width="3.05" height="9.06" fill="#d4fc2e"/><rect x="644.00" y="533.94" width="2.05" height="9.06" fill="#d4fc2e"/><rect x="644.75" y="401.89" width="1.30" height="19.22" fill="#3df251"/><rect x="644.75" y="422.21" width="1.30" height="9.06" fill="#3de8a5"/><rect x="644.00" y="503.47" width="2.30" height="19.22" fill="#3dccd8"/><rect x="644.00" y="493.31" width="2.30" height="9.06" fill="#3de8a5"/><rect x="644.00" y="523.78" width="2.30" height="9.06" fill="#76f940"/><rect x="644.00" y="472.99" width="2.30" height="19.22" fill="#3dccd8"/><rect x="645.75" y="533.94" width="0.55" height="9.06" fill="#fff22d"/><rect x="645.75" y="462.84" width="0.55" height="9.06" fill="#76f940"/><rect x="645.75" y="401.89" width="1.30" height="29.37" fill="#3de8a5"/><rect x="644.75" y="371.42" width="2.50" height="29.37" fill="#3dccd8"/><rect x="644.75" y="351.10" width="2.50" height="19.22" fill="#3575d1"/><rect x="646.75" y="401.89" width="0.50" height="19.22" fill="#3de8a5"/><rect x="646.75" y="422.21" width="1.55" height="9.06" fill="#3a30b8"/><rect x="645.00" y="432.36" width="3.55" height="29.37" fill="#3df251"/><rect x="646.00" y="523.78" width="2.55" height="19.22" fill="#fff22d"/><rect x="646.00" y="462.84" width="2.55" height="59.85" fill="#76f940"/><rect x="648.00" y="422.21" width="0.55" height="9.06" fill="#d4fc2e"/><rect x="648.25" y="462.84" width="1.05" height="80.16" fill="#fff22d"/><rect x="648.75" y="279.99" width="1.25" height="9.06" fill="#3a30b8"/><rect x="648.75" y="290.15" width="1.25" height="29.37" fill="#3575d1"/><rect x="648.75" y="320.63" width="1.25" height="39.53" fill="#3de8a5"/><rect x="648.75" y="361.26" width="2.05" height="49.69" fill="#3df251"/><rect x="649.00" y="533.94" width="2.05" height="9.06" fill="#fdb827"/><rect x="649.00" y="462.84" width="2.05" height="70.01" fill="#fff22d"/><rect x="650.50" y="401.89" width="0.25" height="9.06" fill="#3df251"/><rect x="648.75" y="412.05" width="2.25" height="9.06" fill="#76f940"/><rect x="648.25" y="422.21" width="3.30" height="39.53" fill="#d4fc2e"/><rect x="650.75" y="462.84" width="1.05" height="80.16" fill="#fff22d"/><rect x="651.25" y="452.68" width="0.55" height="9.06" fill="#d4fc2e"/><rect x="650.25" y="158.10" width="1.75" height="202.06" fill="#7a1f52"/><rect x="650.50" y="361.26" width="1.50" height="39.53" fill="#3de8a5"/><rect x="651.50" y="503.47" width="1.05" height="39.53" fill="#fff22d"/><rect x="651.50" y="472.99" width="1.05" height="29.37" fill="#76f940"/><rect x="651.25" y="401.89" width="1.80" height="39.53" fill="#7a1f52"/><rect x="651.25" y="442.52" width="2.05" height="9.06" fill="#3a30b8"/><rect x="651.50" y="452.68" width="1.80" height="9.06" fill="#3dccd8"/><rect x="651.50" y="462.84" width="1.80" height="9.06" fill="#3de8a5"/><rect x="652.75" y="401.89" width="0.25" height="19.22" fill="#7a1f52"/><rect x="652.25" y="472.99" width="1.80" height="39.53" fill="#76f940"/><rect x="653.75" y="483.15" width="0.55" height="29.37" fill="#76f940"/><rect x="652.75" y="422.21" width="1.50" height="9.06" fill="#3575d1"/><rect x="653.00" y="462.84" width="1.25" height="9.06" fill="#d4fc2e"/><rect x="654.00" y="483.15" width="0.55" height="19.22" fill="#76f940"/><rect x="653.00" y="432.36" width="1.50" height="9.06" fill="#3dccd8"/><rect x="653.00" y="442.52" width="1.50" height="9.06" fill="#3df251"/><rect x="653.00" y="452.68" width="1.50" height="9.06" fill="#76f940"/><rect x="652.25" y="513.63" width="2.80" height="19.22" fill="#d4fc2e"/><rect x="652.25" y="533.94" width="2.80" height="9.06" fill="#fff22d"/><rect x="653.75" y="472.99" width="1.30" height="9.06" fill="#fff22d"/><rect x="654.00" y="503.47" width="1.05" height="9.06" fill="#3de8a5"/><rect x="654.25" y="483.15" width="0.80" height="9.06" fill="#3df251"/><rect x="654.25" y="493.31" width="0.80" height="9.06" fill="#76f940"/><rect x="654.75" y="533.94" width="2.05" height="9.06" fill="#d4fc2e"/><rect x="654.75" y="503.47" width="2.05" height="19.22" fill="#3de8a5"/><rect x="654.75" y="472.99" width="2.25" height="19.22" fill="#3df251"/><rect x="655.00" y="462.84" width="2.00" height="9.06" fill="#3575d1"/><rect x="655.00" y="452.68" width="2.00" height="9.06" fill="#3a30b8"/><rect x="654.75" y="523.78" width="2.80" height="9.06" fill="#76f940"/><rect x="654.75" y="493.31" width="2.80" height="9.06" fill="#3dccd8"/><rect x="656.50" y="503.47" width="1.05" height="19.22" fill="#3df251"/><rect x="657.25" y="503.47" width="1.30" height="29.37" fill="#3df251"/><rect x="656.50" y="533.94" width="2.30" height="9.06" fill="#fff22d"/><rect x="658.25" y="503.47" width="0.80" height="9.06" fill="#3df251"/><rect x="657.25" y="493.31" width="1.75" height="9.06" fill="#3a30b8"/><rect x="657.25" y="483.15" width="1.75" height="9.06" fill="#7a1f52"/><rect x="658.25" y="513.63" width="1.75" height="9.06" fill="#3dccd8"/><rect x="658.50" y="533.94" width="1.80" height="9.06" fill="#d4fc2e"/><rect x="658.25" y="523.78" width="2.55" height="9.06" fill="#3df251"/><rect x="658.75" y="503.47" width="1.75" height="9.06" fill="#6f2ea5"/><rect x="660.00" y="533.94" width="2.05" height="9.06" fill="#76f940"/><rect x="660.50" y="523.78" width="1.55" height="9.06" fill="#3de8a5"/><rect x="661.00" y="513.63" width="1.05" height="9.06" fill="#fff22d"/><rect x="661.00" y="452.68" width="2.30" height="9.06" fill="#3575d1"/><rect x="661.00" y="503.47" width="2.30" height="9.06" fill="#d4fc2e"/><rect x="661.75" y="513.63" width="1.55" height="19.22" fill="#fff22d"/><rect x="662.00" y="432.36" width="1.30" height="19.22" fill="#3df251"/><rect x="661.00" y="462.84" width="2.55" height="9.06" fill="#3dccd8"/><rect x="661.00" y="472.99" width="2.55" height="19.22" fill="#3df251"/><rect x="661.75" y="533.94" width="2.30" height="9.06" fill="#fdb827"/><rect x="662.00" y="401.89" width="2.00" height="9.06" fill="#3a30b8"/><rect x="662.00" y="412.05" width="2.00" height="9.06" fill="#3575d1"/><rect x="662.00" y="422.21" width="2.00" height="9.06" fill="#3de8a5"/><rect x="663.00" y="432.36" width="1.00" height="29.37" fill="#3df251"/><rect x="663.00" y="523.78" width="1.55" height="9.06" fill="#fff22d"/><rect x="661.00" y="493.31" width="3.75" height="9.06" fill="#76f940"/><rect x="663.00" y="503.47" width="2.05" height="19.22" fill="#d4fc2e"/><rect x="663.25" y="483.15" width="1.50" height="9.06" fill="#3df251"/><rect x="663.25" y="462.84" width="1.75" height="9.06" fill="#3a30b8"/><rect x="663.25" y="472.99" width="2.00" height="9.06" fill="#3575d1"/><rect x="664.75" y="513.63" width="1.05" height="9.06" fill="#d4fc2e"/><rect x="664.75" y="503.47" width="1.05" height="9.06" fill="#3dccd8"/><rect x="666.00" y="493.31" width="1.05" height="9.06" fill="#3a30b8"/><rect x="663.75" y="533.94" width="3.80" height="9.06" fill="#d4fc2e"/><rect x="664.25" y="523.78" width="3.30" height="9.06" fill="#76f940"/><rect x="665.50" y="503.47" width="2.05" height="19.22" fill="#3dccd8"/><rect x="667.75" y="462.84" width="0.55" height="19.22" fill="#3df251"/><rect x="666.75" y="483.15" width="2.05" height="19.22" fill="#3a30b8"/><rect x="668.00" y="452.68" width="1.30" height="29.37" fill="#3df251"/><rect x="668.50" y="483.15" width="0.80" height="9.06" fill="#3a30b8"/><rect x="668.50" y="493.31" width="0.80" height="9.06" fill="#3df251"/><rect x="669.00" y="452.68" width="0.55" height="49.69" fill="#3df251"/><rect x="668.00" y="442.52" width="1.80" height="9.06" fill="#3dccd8"/><rect x="668.00" y="422.21" width="1.80" height="19.22" fill="#3a30b8"/><rect x="669.25" y="452.68" width="0.25" height="9.06" fill="#3df251"/><rect x="667.25" y="523.78" width="3.05" height="19.22" fill="#d4fc2e"/><rect x="667.25" y="503.47" width="3.05" height="19.22" fill="#76f940"/><rect x="668.00" y="412.05" width="2.00" height="9.06" fill="#7a1f52"/><rect x="669.50" y="432.36" width="0.80" height="19.22" fill="#7a1f52"/><rect x="669.50" y="422.21" width="0.50" height="9.06" fill="#3a30b8"/><rect x="669.25" y="483.15" width="1.30" height="19.22" fill="#3df251"/><rect x="670.00" y="432.36" width="0.55" height="49.69" fill="#7a1f52"/><rect x="670.25" y="432.36" width="0.80" height="59.85" fill="#7a1f52"/><rect x="670.00" y="503.47" width="1.55" height="29.37" fill="#76f940"/><rect x="670.75" y="432.36" width="0.80" height="49.69" fill="#7a1f52"/><rect x="670.00" y="533.94" width="2.05" height="9.06" fill="#fdb827"/><rect x="670.25" y="493.31" width="1.80" height="9.06" fill="#3df251"/><rect x="671.25" y="452.68" width="0.50" height="19.22" fill="#7a1f52"/><rect x="671.25" y="503.47" width="0.80" height="19.22" fill="#76f940"/><rect x="670.75" y="483.15" width="1.55" height="9.06" fill="#3de8a5"/><rect x="671.25" y="472.99" width="1.25" height="9.06" fill="#3dccd8"/><rect x="671.25" y="523.78" width="1.55" height="9.06" fill="#fff22d"/><rect x="671.75" y="503.47" width="2.00" height="19.22" fill="#3dccd8"/><rect x="671.75" y="493.31" width="2.00" height="9.06" fill="#3575d1"/><rect x="671.75" y="533.94" width="2.30" height="9.06" fill="#d4fc2e"/><rect x="672.00" y="483.15" width="1.75" height="9.06" fill="#7a1f52"/><rect x="672.50" y="523.78" width="2.80" height="9.06" fill="#76f940"/><rect x="673.75" y="533.94" width="2.55" height="9.06" fill="#3de8a5"/><rect x="675.00" y="523.78" width="1.30" height="9.06" fill="#d4fc2e"/><rect x="675.00" y="452.68" width="1.75" height="19.22" fill="#3575d1"/><rect x="675.00" y="483.15" width="2.05" height="19.22" fill="#3df251"/><rect x="675.00" y="472.99" width="2.25" height="9.06" fill="#3dccd8"/><rect x="675.00" y="503.47" width="2.80" height="19.22" fill="#76f940"/><rect x="676.75" y="493.31" width="1.05" height="9.06" fill="#3df251"/><rect x="676.75" y="483.15" width="1.55" height="9.06" fill="#3575d1"/><rect x="677.50" y="493.31" width="0.80" height="9.06" fill="#3de8a5"/><rect x="676.00" y="533.94" width="2.80" height="9.06" fill="#fdb827"/><rect x="676.00" y="523.78" width="2.80" height="9.06" fill="#fff22d"/><rect x="678.50" y="523.78" width="0.55" height="19.22" fill="#fff22d"/><rect x="677.50" y="503.47" width="2.30" height="9.06" fill="#76f940"/><rect x="677.50" y="513.63" width="2.30" height="9.06" fill="#d4fc2e"/><rect x="678.00" y="452.68" width="1.75" height="9.06" fill="#3a30b8"/><rect x="678.00" y="462.84" width="2.00" height="39.53" fill="#3de8a5"/><rect x="678.75" y="533.94" width="1.55" height="9.06" fill="#fff22d"/><rect x="678.75" y="523.78" width="2.30" height="9.06" fill="#6f2ea5"/><rect x="679.50" y="513.63" width="1.55" height="9.06" fill="#3dccd8"/><rect x="680.00" y="533.94" width="2.30" height="9.06" fill="#3de8a5"/><rect x="680.75" y="513.63" width="1.55" height="19.22" fill="#3dccd8"/><rect x="679.50" y="503.47" width="3.30" height="9.06" fill="#3575d1"/><rect x="682.00" y="513.63" width="0.80" height="9.06" fill="#3dccd8"/><rect x="682.00" y="523.78" width="1.55" height="9.06" fill="#3de8a5"/><rect x="682.50" y="513.63" width="1.05" height="9.06" fill="#3df251"/><rect x="682.50" y="503.47" width="1.55" height="9.06" fill="#3de8a5"/><rect x="682.50" y="483.15" width="1.55" height="19.22" fill="#3dccd8"/><rect x="682.50" y="462.84" width="1.75" height="19.22" fill="#3575d1"/><rect x="682.50" y="452.68" width="1.75" height="9.06" fill="#6f2ea5"/><rect x="683.75" y="483.15" width="0.80" height="29.37" fill="#3dccd8"/><rect x="683.25" y="513.63" width="1.55" height="19.22" fill="#3df251"/><rect x="682.00" y="533.94" width="4.55" height="9.06" fill="#76f940"/><rect x="684.25" y="503.47" width="2.30" height="9.06" fill="#3dccd8"/><rect x="684.50" y="513.63" width="2.05" height="9.06" fill="#3575d1"/><rect x="686.00" y="483.15" width="0.55" height="19.22" fill="#3de8a5"/><rect x="686.25" y="483.15" width="2.05" height="39.53" fill="#3de8a5"/><rect x="686.25" y="533.94" width="2.05" height="9.06" fill="#fff22d"/><rect x="688.00" y="533.94" width="1.55" height="9.06" fill="#d4fc2e"/><rect x="688.00" y="503.47" width="2.55" height="9.06" fill="#3a30b8"/><rect x="688.00" y="513.63" width="2.55" height="9.06" fill="#3de8a5"/><rect x="684.50" y="523.78" width="6.30" height="9.06" fill="#3df251"/><rect x="689.25" y="533.94" width="1.80" height="9.06" fill="#76f940"/><rect x="690.25" y="503.47" width="0.80" height="19.22" fill="#3a30b8"/><rect x="690.50" y="523.78" width="0.80" height="9.06" fill="#fff22d"/><rect x="690.75" y="513.63" width="0.55" height="9.06" fill="#3a30b8"/><rect x="690.75" y="503.47" width="0.55" height="9.06" fill="#fff22d"/><rect x="690.75" y="533.94" width="1.30" height="9.06" fill="#d4fc2e"/><rect x="690.75" y="472.99" width="2.25" height="19.22" fill="#76f940"/><rect x="690.75" y="493.31" width="2.25" height="9.06" fill="#d4fc2e"/><rect x="691.00" y="503.47" width="2.00" height="29.37" fill="#fff22d"/><rect x="691.75" y="533.94" width="2.30" height="9.06" fill="#fdb827"/><rect x="693.75" y="533.94" width="2.50" height="9.06" fill="#d4fc2e"/><rect x="694.25" y="523.78" width="2.00" height="9.06" fill="#3df251"/><rect x="696.75" y="513.63" width="0.80" height="19.22" fill="#d4fc2e"/><rect x="697.25" y="513.63" width="1.80" height="29.37" fill="#d4fc2e"/><rect x="698.75" y="533.94" width="0.55" height="9.06" fill="#d4fc2e"/><rect x="699.00" y="533.94" width="1.55" height="9.06" fill="#fdb827"/><rect x="699.00" y="503.47" width="2.00" height="9.06" fill="#3df251"/><rect x="699.50" y="513.63" width="1.80" height="9.06" fill="#3de8a5"/><rect x="699.00" y="493.31" width="2.25" height="9.06" fill="#3de8a5"/><rect x="699.00" y="472.99" width="2.25" height="19.22" fill="#3dccd8"/><rect x="699.50" y="523.78" width="2.80" height="9.06" fill="#76f940"/><rect x="700.25" y="533.94" width="2.05" height="9.06" fill="#d4fc2e"/><rect x="701.00" y="513.63" width="1.25" height="9.06" fill="#3dccd8"/><rect x="702.00" y="533.94" width="1.55" height="9.06" fill="#3a30b8"/><rect x="702.00" y="523.78" width="1.50" height="9.06" fill="#6b1c1f"/><rect x="703.25" y="533.94" width="2.05" height="9.06" fill="#76f940"/><rect x="705.00" y="533.94" width="2.00" height="9.06" fill="#d4fc2e"/><rect x="708.00" y="533.94" width="1.55" height="9.06" fill="#fdb827"/><rect x="707.75" y="523.78" width="2.05" height="9.06" fill="#d4fc2e"/><rect x="708.00" y="513.63" width="1.80" height="9.06" fill="#3de8a5"/><rect x="709.50" y="513.63" width="0.55" height="19.22" fill="#3de8a5"/><rect x="709.25" y="533.94" width="2.30" height="9.06" fill="#3dccd8"/><rect x="709.75" y="513.63" width="2.25" height="9.06" fill="#3a30b8"/><rect x="709.75" y="523.78" width="2.25" height="9.06" fill="#3de8a5"/><rect x="711.25" y="533.94" width="1.25" height="9.06" fill="#fff22d"/><rect x="713.00" y="533.94" width="1.30" height="9.06" fill="#d4fc2e"/><rect x="714.00" y="523.78" width="2.30" height="19.22" fill="#d4fc2e"/><rect x="715.00" y="503.47" width="1.30" height="19.22" fill="#76f940"/><rect x="716.00" y="533.94" width="0.55" height="9.06" fill="#d4fc2e"/><rect x="716.00" y="503.47" width="0.55" height="29.37" fill="#76f940"/><rect x="716.25" y="503.47" width="1.30" height="39.53" fill="#76f940"/><rect x="717.25" y="523.78" width="1.55" height="19.22" fill="#76f940"/><rect x="718.50" y="462.84" width="0.55" height="9.06" fill="#3df251"/><rect x="717.25" y="493.31" width="2.05" height="19.22" fill="#3dccd8"/><rect x="717.25" y="513.63" width="2.05" height="9.06" fill="#3de8a5"/><rect x="718.50" y="533.94" width="0.80" height="9.06" fill="#d4fc2e"/><rect x="718.50" y="523.78" width="0.80" height="9.06" fill="#76f940"/><rect x="718.50" y="483.15" width="1.55" height="9.06" fill="#d4fc2e"/><rect x="718.75" y="472.99" width="1.30" height="9.06" fill="#fff22d"/><rect x="719.00" y="493.31" width="1.05" height="9.06" fill="#76f940"/><rect x="718.75" y="452.68" width="1.55" height="19.22" fill="#76f940"/><rect x="718.75" y="442.52" width="1.25" height="9.06" fill="#3de8a5"/><rect x="718.75" y="432.36" width="1.50" height="9.06" fill="#3575d1"/><rect x="719.00" y="503.47" width="2.30" height="39.53" fill="#d4fc2e"/><rect x="719.75" y="483.15" width="1.55" height="19.22" fill="#76f940"/><rect x="720.00" y="462.84" width="1.30" height="9.06" fill="#76f940"/><rect x="719.75" y="472.99" width="2.05" height="9.06" fill="#3df251"/><rect x="721.00" y="483.15" width="0.80" height="9.06" fill="#76f940"/><rect x="721.00" y="493.31" width="0.80" height="49.69" fill="#d4fc2e"/><rect x="721.00" y="442.52" width="0.80" height="29.37" fill="#d4fc2e"/><rect x="721.00" y="381.57" width="1.55" height="49.69" fill="#3df251"/><rect x="721.00" y="320.63" width="1.55" height="59.85" fill="#3de8a5"/><rect x="721.00" y="432.36" width="1.55" height="9.06" fill="#76f940"/><rect x="721.50" y="442.52" width="1.05" height="90.32" fill="#d4fc2e"/><rect x="722.25" y="320.63" width="0.50" height="19.22" fill="#3de8a5"/><rect x="722.25" y="371.42" width="1.30" height="9.06" fill="#3de8a5"/><rect x="722.25" y="381.57" width="1.30" height="9.06" fill="#3df251"/><rect x="722.25" y="462.84" width="1.55" height="70.01" fill="#d4fc2e"/><rect x="722.25" y="340.94" width="1.75" height="29.37" fill="#3dccd8"/><rect x="722.25" y="422.21" width="2.05" height="39.53" fill="#3df251"/><rect x="723.50" y="462.84" width="0.80" height="59.85" fill="#d4fc2e"/><rect x="723.50" y="523.78" width="1.55" height="9.06" fill="#fff22d"/><rect x="724.00" y="442.52" width="1.05" height="80.16" fill="#d4fc2e"/><rect x="722.25" y="391.73" width="3.05" height="29.37" fill="#3de8a5"/><rect x="723.25" y="371.42" width="2.05" height="9.06" fill="#3575d1"/><rect x="723.25" y="381.57" width="2.05" height="9.06" fill="#3dccd8"/><rect x="724.00" y="422.21" width="1.30" height="19.22" fill="#3df251"/><rect x="724.75" y="442.52" width="0.55" height="39.53" fill="#d4fc2e"/><rect x="725.00" y="422.21" width="0.55" height="9.06" fill="#3df251"/><rect x="725.00" y="432.36" width="0.55" height="49.69" fill="#d4fc2e"/><rect x="725.00" y="412.05" width="1.05" height="9.06" fill="#3de8a5"/><rect x="725.25" y="422.21" width="0.80" height="59.85" fill="#d4fc2e"/><rect x="724.75" y="290.15" width="1.55" height="39.53" fill="#3575d1"/><rect x="724.75" y="330.78" width="1.80" height="9.06" fill="#3dccd8"/><rect x="726.00" y="300.31" width="0.55" height="19.22" fill="#3dccd8"/><rect x="726.00" y="320.63" width="0.55" height="9.06" fill="#3575d1"/><rect x="725.75" y="412.05" width="1.30" height="70.01" fill="#d4fc2e"/><rect x="721.50" y="533.94" width="5.80" height="9.06" fill="#fdb827"/><rect x="724.75" y="483.15" width="2.55" height="49.69" fill="#fff22d"/><rect x="725.00" y="371.42" width="2.55" height="39.53" fill="#76f940"/><rect x="726.75" y="442.52" width="0.80" height="9.06" fill="#3df251"/><rect x="726.75" y="412.05" width="0.80" height="29.37" fill="#d4fc2e"/><rect x="727.00" y="483.15" width="0.55" height="59.85" fill="#fff22d"/><rect x="725.00" y="340.94" width="2.75" height="9.06" fill="#3de8a5"/><rect x="726.25" y="300.31" width="1.80" height="39.53" fill="#3dccd8"/><rect x="725.00" y="351.10" width="3.30" height="19.22" fill="#3df251"/><rect x="726.00" y="290.15" width="2.00" height="9.06" fill="#3a30b8"/><rect x="727.25" y="493.31" width="1.05" height="9.06" fill="#76f940"/><rect x="727.25" y="503.47" width="1.05" height="39.53" fill="#fff22d"/><rect x="727.25" y="483.15" width="1.05" height="9.06" fill="#fff22d"/><rect x="727.75" y="300.31" width="0.25" height="19.22" fill="#3dccd8"/><rect x="727.25" y="412.05" width="2.30" height="39.53" fill="#3df251"/><rect x="726.75" y="452.68" width="3.05" height="29.37" fill="#76f940"/><rect x="729.25" y="412.05" width="0.55" height="29.37" fill="#3df251"/><rect x="727.25" y="391.73" width="2.50" height="19.22" fill="#3de8a5"/><rect x="727.25" y="371.42" width="2.50" height="19.22" fill="#3dccd8"/><rect x="729.50" y="462.84" width="0.55" height="19.22" fill="#76f940"/><rect x="729.50" y="452.68" width="0.55" height="9.06" fill="#3de8a5"/><rect x="729.50" y="412.05" width="0.25" height="19.22" fill="#3df251"/><rect x="728.00" y="361.26" width="2.00" height="9.06" fill="#3575d1"/><rect x="729.75" y="472.99" width="0.55" height="9.06" fill="#76f940"/><rect x="728.00" y="483.15" width="2.80" height="39.53" fill="#d4fc2e"/><rect x="729.50" y="432.36" width="1.50" height="9.06" fill="#3a30b8"/><rect x="729.75" y="452.68" width="1.55" height="19.22" fill="#3de8a5"/><rect x="729.75" y="442.52" width="1.25" height="9.06" fill="#3575d1"/><rect x="730.00" y="472.99" width="1.55" height="9.06" fill="#3df251"/><rect x="730.50" y="483.15" width="1.05" height="19.22" fill="#d4fc2e"/><rect x="728.00" y="523.78" width="4.05" height="19.22" fill="#fff22d"/><rect x="731.00" y="462.84" width="1.30" height="9.06" fill="#3de8a5"/><rect x="731.25" y="472.99" width="1.05" height="19.22" fill="#3df251"/><rect x="730.50" y="503.47" width="2.55" height="9.06" fill="#3de8a5"/><rect x="731.25" y="493.31" width="1.80" height="9.06" fill="#76f940"/><rect x="731.75" y="533.94" width="1.55" height="9.06" fill="#fdb827"/><rect x="730.50" y="513.63" width="3.55" height="9.06" fill="#d4fc2e"/><rect x="731.75" y="523.78" width="2.30" height="9.06" fill="#fff22d"/><rect x="732.00" y="442.52" width="2.05" height="49.69" fill="#3df251"/><rect x="732.75" y="493.31" width="1.30" height="19.22" fill="#76f940"/><rect x="733.75" y="442.52" width="0.55" height="59.85" fill="#3df251"/><rect x="731.75" y="432.36" width="2.80" height="9.06" fill="#3de8a5"/><rect x="732.00" y="422.21" width="2.55" height="9.06" fill="#3dccd8"/><rect x="733.75" y="513.63" width="0.80" height="19.22" fill="#3df251"/><rect x="733.75" y="503.47" width="0.80" height="9.06" fill="#76f940"/><rect x="734.00" y="462.84" width="0.55" height="39.53" fill="#3df251"/><rect x="734.25" y="472.99" width="0.55" height="19.22" fill="#3de8a5"/><rect x="734.25" y="462.84" width="0.55" height="9.06" fill="#3df251"/><rect x="733.00" y="371.42" width="1.75" height="9.06" fill="#3575d1"/><rect x="733.00" y="381.57" width="1.75" height="9.06" fill="#3dccd8"/><rect x="733.00" y="391.73" width="2.55" height="29.37" fill="#3de8a5"/><rect x="734.25" y="422.21" width="1.80" height="19.22" fill="#3a30b8"/><rect x="734.25" y="442.52" width="1.50" height="9.06" fill="#3575d1"/><rect x="733.00" y="533.94" width="3.30" height="9.06" fill="#d4fc2e"/><rect x="734.25" y="493.31" width="2.05" height="39.53" fill="#3df251"/><rect x="735.75" y="432.36" width="0.55" height="9.06" fill="#3a30b8"/><rect x="735.75" y="422.21" width="0.55" height="9.06" fill="#3de8a5"/><rect x="736.00" y="503.47" width="0.55" height="39.53" fill="#d4fc2e"/><rect x="736.00" y="493.31" width="0.55" height="9.06" fill="#3df251"/><rect x="734.25" y="452.68" width="3.05" height="9.06" fill="#3dccd8"/><rect x="734.50" y="462.84" width="2.80" height="29.37" fill="#3de8a5"/><rect x="735.25" y="412.05" width="1.75" height="9.06" fill="#3dccd8"/><rect x="735.50" y="391.73" width="1.50" height="19.22" fill="#3575d1"/><rect x="736.00" y="422.21" width="1.30" height="19.22" fill="#3de8a5"/><rect x="736.00" y="442.52" width="1.00" height="9.06" fill="#3df251"/><rect x="736.25" y="533.94" width="1.55" height="9.06" fill="#76f940"/><rect x="736.25" y="503.47" width="1.55" height="29.37" fill="#d4fc2e"/><rect x="737.00" y="432.36" width="0.50" height="9.06" fill="#3de8a5"/><rect x="736.25" y="493.31" width="2.00" height="9.06" fill="#76f940"/><rect x="737.00" y="472.99" width="1.25" height="19.22" fill="#3de8a5"/><rect x="737.00" y="452.68" width="1.25" height="9.06" fill="#3575d1"/><rect x="737.00" y="462.84" width="1.50" height="9.06" fill="#3dccd8"/><rect x="737.50" y="503.47" width="1.30" height="9.06" fill="#d4fc2e"/><rect x="737.50" y="513.63" width="2.30" height="9.06" fill="#3df251"/><rect x="738.50" y="503.47" width="1.30" height="9.06" fill="#3dccd8"/><rect x="737.50" y="533.94" width="2.55" height="9.06" fill="#d4fc2e"/><rect x="737.50" y="523.78" width="2.55" height="9.06" fill="#76f940"/><rect x="739.50" y="503.47" width="2.30" height="19.22" fill="#3dccd8"/><rect x="739.75" y="523.78" width="2.05" height="9.06" fill="#3de8a5"/><rect x="739.75" y="533.94" width="2.55" height="9.06" fill="#3df251"/><rect x="741.50" y="503.47" width="2.30" height="19.22" fill="#3df251"/><rect x="743.50" y="503.47" width="0.55" height="9.06" fill="#3df251"/><rect x="741.00" y="493.31" width="3.25" height="9.06" fill="#3de8a5"/><rect x="741.00" y="483.15" width="3.25" height="9.06" fill="#3dccd8"/><rect x="743.75" y="503.47" width="1.55" height="9.06" fill="#3575d1"/><rect x="744.75" y="472.99" width="0.55" height="29.37" fill="#fff22d"/><rect x="743.50" y="513.63" width="2.55" height="9.06" fill="#3de8a5"/><rect x="745.00" y="412.05" width="1.05" height="100.48" fill="#fff22d"/><rect x="745.00" y="381.57" width="1.55" height="29.37" fill="#d4fc2e"/><rect x="745.75" y="412.05" width="0.80" height="110.64" fill="#fff22d"/><rect x="741.50" y="523.78" width="5.30" height="9.06" fill="#76f940"/><rect x="742.00" y="533.94" width="4.80" height="9.06" fill="#fff22d"/><rect x="746.25" y="462.84" width="0.55" height="59.85" fill="#fff22d"/><rect x="746.50" y="462.84" width="0.80" height="80.16" fill="#fff22d"/><rect x="745.00" y="320.63" width="2.25" height="29.37" fill="#3dccd8"/><rect x="745.00" y="361.26" width="2.25" height="19.22" fill="#76f940"/><rect x="745.00" y="351.10" width="2.25" height="9.06" fill="#3de8a5"/><rect x="747.00" y="472.99" width="0.55" height="59.85" fill="#fff22d"/><rect x="746.25" y="442.52" width="2.00" height="19.22" fill="#3df251"/><rect x="746.25" y="422.21" width="2.00" height="19.22" fill="#3dccd8"/><rect x="746.25" y="381.57" width="2.00" height="39.53" fill="#7a1f52"/><rect x="747.00" y="462.84" width="1.25" height="9.06" fill="#d4fc2e"/><rect x="747.00" y="533.94" width="1.55" height="9.06" fill="#fdb827"/><rect x="747.25" y="472.99" width="1.00" height="29.37" fill="#fff22d"/><rect x="747.25" y="523.78" width="2.05" height="9.06" fill="#3de8a5"/><rect x="747.25" y="503.47" width="2.05" height="19.22" fill="#7a1f52"/><rect x="748.50" y="493.31" width="0.80" height="9.06" fill="#3dccd8"/><rect x="748.50" y="483.15" width="2.00" height="9.06" fill="#3a30b8"/><rect x="749.00" y="493.31" width="1.80" height="19.22" fill="#3dccd8"/><rect x="750.50" y="503.47" width="0.55" height="9.06" fill="#3dccd8"/><rect x="749.00" y="513.63" width="2.55" height="9.06" fill="#3df251"/><rect x="750.75" y="493.31" width="2.05" height="19.22" fill="#3dccd8"/><rect x="751.25" y="513.63" width="1.55" height="9.06" fill="#76f940"/><rect x="751.25" y="483.15" width="1.75" height="9.06" fill="#7a1f52"/><rect x="752.50" y="493.31" width="0.80" height="29.37" fill="#3dccd8"/><rect x="748.25" y="533.94" width="5.30" height="9.06" fill="#fff22d"/><rect x="749.00" y="523.78" width="4.55" height="9.06" fill="#d4fc2e"/><rect x="753.00" y="503.47" width="0.55" height="19.22" fill="#3dccd8"/><rect x="753.25" y="533.94" width="2.75" height="9.06" fill="#d4fc2e"/><rect x="753.25" y="513.63" width="2.75" height="19.22" fill="#3dccd8"/><rect x="753.25" y="503.47" width="3.00" height="9.06" fill="#3a30b8"/><rect x="754.50" y="493.31" width="1.75" height="9.06" fill="#7a1f52"/><rect x="756.75" y="533.94" width="2.25" height="9.06" fill="#d4fc2e"/><rect x="756.75" y="523.78" width="2.25" height="9.06" fill="#3df251"/><rect x="756.75" y="513.63" width="2.25" height="9.06" fill="#3de8a5"/></g>
<text y="52"><tspan class="tc" x="135.62">福井県の</tspan><tspan class="tl" x="286.36" y="52.3">COVID-19</tspan><tspan class="tc" x="439.14" y="52">新規陽性者数</tspan></text>
<text class="ax" x="33.99" y="162.6">38.0</text>
<text class="ax" x="33.99" y="259.1">28.5</text>
<text class="ax" x="33.99" y="355.6">19.0</text>
<text class="ax" x="45.07" y="452.1">9.5</text>
<text class="ax" x="45.07" y="548.6">0.0</text>
<text class="ax" x="161.73" y="576.1">3/30</text>
<text class="ax" x="191.80" y="576.1">4/24</text>
<text class="ax" x="317.64" y="576.1">8/2</text>
<text class="ax" x="342.18" y="576.1">8/27</text>
<text class="ax" x="396.79" y="576.1">10/16</text>
<text class="ax" x="426.86" y="576.1">11/10</text>
<text class="ax" x="487.01" y="576.1">12/30</text>
<text class="ax" x="522.63" y="576.1">1/24</text>
<text class="ax" x="552.70" y="576.1">2/18</text>
<text class="ax" x="618.39" y="576.1">4/9</text>
<text class="ax" x="648.47" y="576.1">5/4</text>
<text class="ax" x="735.56" y="576.1">7/20</text>
<rect x="52.9" y="70" width="21.2" height="21" fill="#fdb827"/>
<text><tspan class="ld" x="87.21" y="84.5">10</tspan><tspan class="lc" x="101.80" y="84.8">歳未満</tspan></text>
<rect x="165.9" y="70" width="21.2" height="21" fill="#fff22d"/>
<text><tspan class="ld" x="200.21" y="84.5">10</tspan><tspan class="lc" x="214.80" y="84.8">代</tspan></text>
<rect x="248.9" y="70" width="21.2" height="21" fill="#d4fc2e"/>
<text><tspan class="ld" x="283.21" y="84.5">20</tspan><tspan class="lc" x="297.80" y="84.8">代</tspan></text>
<rect x="331.9" y="70" width="21.2" height="21" fill="#76f940"/>
<text><tspan class="ld" x="366.21" y="84.5">30</tspan><tspan class="lc" x="380.80" y="84.8">代</tspan></text>
<rect x="414.9" y="70" width="21.2" height="21" fill="#3df251"/>
<text><tspan class="ld" x="449.21" y="84.5">40</tspan><tspan class="lc" x="463.80" y="84.8">代</tspan></text>
<rect x="497.9" y="70" width="21.2" height="21" fill="#3de8a5"/>
<text><tspan class="ld" x="532.21" y="84.5">50</tspan><tspan class="lc" x="546.80" y="84.8">代</tspan></text>
<rect x="580.9" y="70" width="21.2" height="21" fill="#3dccd8"/>
<text><tspan class="ld" x="615.21" y="84.5">60</tspan><tspan class="lc" x="629.80" y="84.8">代</tspan></text>
<rect x="663.9" y="70" width="21.2" height="21" fill="#3575d1"/>
<text><tspan class="ld" x="698.21" y="84.5">70</tspan><tspan class="lc" x="712.80" y="84.8">代</tspan></text>
<rect x="165.9" y="110" width="20.4" height="21" fill="#3a30b8"/>
<text><tspan class="ld" x="199.51" y="124.5">80</tspan><tspan class="lc" x="214.10" y="124.8">代</tspan></text>
<rect x="248.9" y="110" width="20.4" height="21" fill="#6f2ea5"/>
<text><tspan class="ld" x="282.51" y="124.5">90</tspan><tspan class="lc" x="297.10" y="124.8">代</tspan></text>
<rect x="331.9" y="110" width="20.4" height="21" fill="#8e2389"/>
<text><tspan class="ld" x="365.51" y="124.5">100</tspan><tspan class="lc" x="386.95" y="124.8">歳以上</tspan></text>
<rect x="451.9" y="110" width="20.4" height="21" fill="#7a1f52"/>
<text class="lc" x="486.40" y="124.8">不明</text>
<rect x="535.9" y="110" width="20.4" height="21" fill="#6b1c1f"/>
<text class="lc" x="570.40" y="124.8">非公表</text>
</svg>
<h1 class="tx title" style="left:134.4px;top:18.0px;width:532.0px;height:40px;line-height:40px;font-size:30px">福井県のCOVID-19新規陽性者数</h1>
<ul class="legend"><li class="tx" style="left:87.3px;top:72.0px;width:57.6px;height:17px;line-height:17px;font-size:11px">10歳未満</li><li class="tx" style="left:200.3px;top:72.0px;width:28.8px;height:17px;line-height:17px;font-size:11px">10代</li><li class="tx" style="left:283.3px;top:72.0px;width:28.8px;height:17px;line-height:17px;font-size:11px">20代</li><li class="tx" style="left:366.3px;top:72.0px;width:28.8px;height:17px;line-height:17px;font-size:11px">30代</li><li class="tx" style="left:449.3px;top:72.0px;width:28.8px;height:17px;line-height:17px;font-size:11px">40代</li><li class="tx" style="left:532.3px;top:72.0px;width:28.8px;height:17px;line-height:17px;font-size:11px">50代</li><li class="tx" style="left:615.3px;top:72.0px;width:28.8px;height:17px;line-height:17px;font-size:11px">60代</li><li class="tx" style="left:698.3px;top:72.0px;width:28.8px;height:17px;line-height:17px;font-size:11px">70代</li><li class="tx" style="left:199.6px;top:112.0px;width:28.8px;height:17px;line-height:17px;font-size:11px">80代</li><li class="tx" style="left:282.6px;top:112.0px;width:28.8px;height:17px;line-height:17px;font-size:11px">90代</li><li class="tx" style="left:365.6px;top:112.0px;width:64.8px;height:17px;line-height:17px;font-size:11px">100歳以上</li><li class="tx" style="left:485.6px;top:112.0px;width:28.8px;height:17px;line-height:17px;font-size:11px">不明</li><li class="tx" style="left:569.6px;top:112.0px;width:43.2px;height:17px;line-height:17px;font-size:11px">非公表</li></ul>
<ol class="axis yaxis"><li class="tx" style="left:33.9px;top:146.5px;width:44.3px;height:20px;line-height:20px;font-size:18px">38.0</li><li class="tx" style="left:33.9px;top:243.0px;width:44.3px;height:20px;line-height:20px;font-size:18px">28.5</li><li class="tx" style="left:33.9px;top:339.5px;width:44.3px;height:20px;line-height:20px;font-size:18px">19.0</li><li class="tx" style="left:45.0px;top:436.0px;width:33.2px;height:20px;line-height:20px;font-size:18px">9.5</li><li class="tx" style="left:45.0px;top:532.5px;width:33.2px;height:20px;line-height:20px;font-size:18px">0.0</li></ol>
<ol class="axis xaxis"><li class="tx" style="left:161.6px;top:560.0px;width:44.3px;height:20px;line-height:20px;font-size:18px">3/30</li><li class="tx" style="left:191.7px;top:560.0px;width:44.3px;height:20px;line-height:20px;font-size:18px">4/24</li><li class="tx" style="left:317.5px;top:560.0px;width:33.2px;height:20px;line-height:20px;font-size:18px">8/2</li><li class="tx" style="left:342.1px;top:560.0px;width:44.3px;height:20px;line-height:20px;font-size:18px">8/27</li><li class="tx" style="left:396.7px;top:560.0px;width:55.4px;height:20px;line-height:20px;font-size:18px">10/16</li><li class="tx" style="left:426.7px;top:560.0px;width:55.4px;height:20px;line-height:20px;font-size:18px">11/10</li><li class="tx" style="left:486.9px;top:560.0px;width:55.4px;height:20px;line-height:20px;font-size:18px">12/30</li><li class="tx" style="left:522.5px;top:560.0px;width:44.3px;height:20px;line-height:20px;font-size:18px">1/24</li><li class="tx" style="left:552.6px;top:560.0px;width:44.3px;height:20px;line-height:20px;font-size:18px">2/18</li><li class="tx" style="left:618.3px;top:560.0px;width:33.2px;height:20px;line-height:20px;font-size:18px">4/9</li><li class="tx" style="left:648.4px;top:560.0px;width:33.2px;height:20px;line-height:20px;font-size:18px">5/4</li><li class="tx" style="left:735.4px;top:560.0px;width:44.3px;height:20px;line-height:20px;font-size:18px">7/20</li></ol>
</div>
</body></html>
